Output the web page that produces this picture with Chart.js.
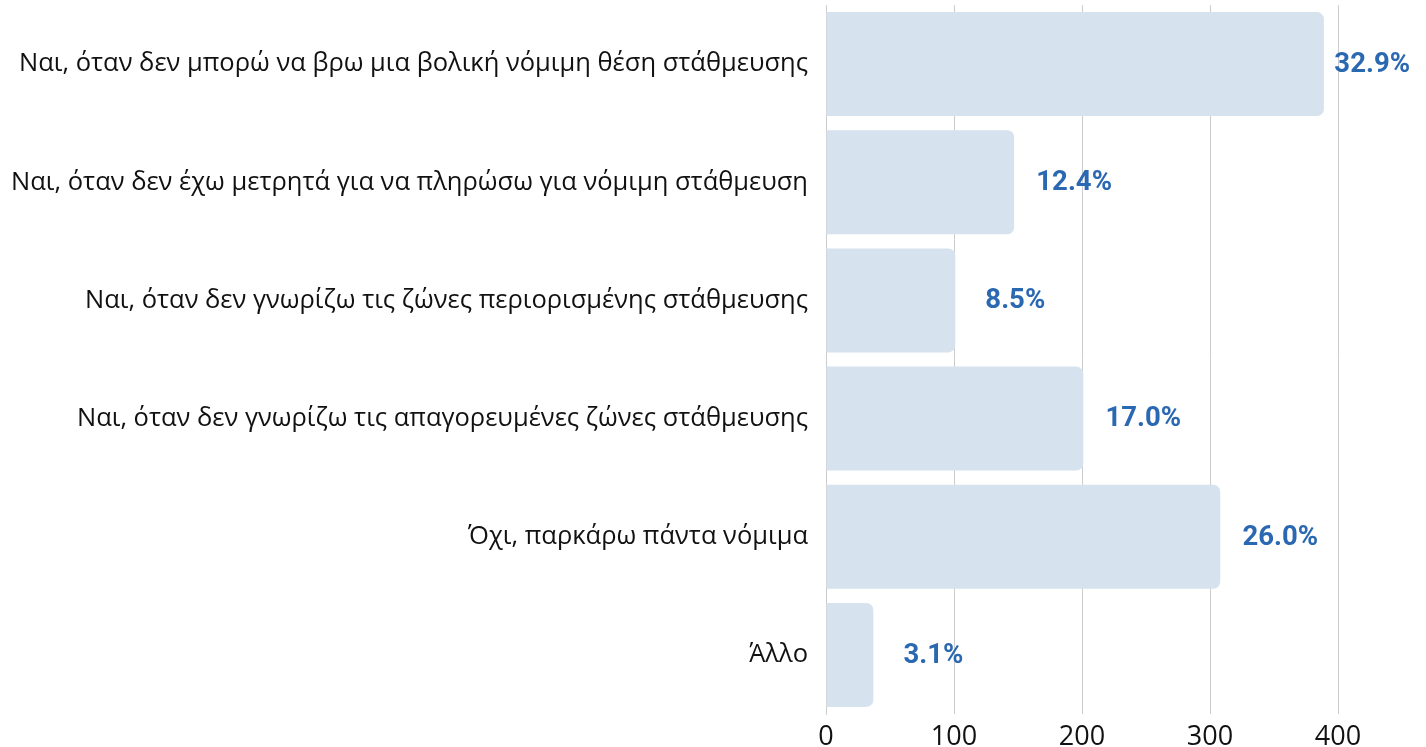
<!DOCTYPE html>
<html>
<head>
<meta charset="utf-8">
<script src="https://cdn.jsdelivr.net/npm/chart.js@4.4.1/dist/chart.umd.min.js"></script>
<style>
  html, body { margin: 0; padding: 0; background: #fff; }
  #wrap { width: 1426px; height: 747px; position: relative; }
</style>
</head>
<body>
<div id="wrap"><canvas id="chart"></canvas></div>
<script>
// answers (categories)
const answers = [
    "Ναι, όταν δεν μπορώ να βρω μια βολική νόμιμη θέση στάθμευσης",
    "Ναι, όταν δεν έχω μετρητά για να πληρώσω για νόμιμη στάθμευση",
    "Ναι, όταν δεν γνωρίζω τις ζώνες περιορισμένης στάθμευσης",
    "Ναι, όταν δεν γνωρίζω τις απαγορευμένες ζώνες στάθμευσης",
    "Όχι, παρκάρω πάντα νόμιμα",
    "Άλλο"
];
// counts
const counts = [389, 147, 101, 201, 308, 37];
// percentage labels as printed next to each bar
const pctLabels = ["32.9%", "12.4%", "8.5%", "17.0%", "26.0%", "3.1%"];
const xTicks = [0, 100, 200, 300, 400];

const labelFont = "'Open Sans', 'Noto Sans', sans-serif";

// draws the blue % text to the right of each bar
const pctPlugin = {
    id: 'pctLabels',
    afterDatasetsDraw(chart) {
        const ctx = chart.ctx;
        const bars = chart.getDatasetMeta(0).data;
        ctx.save();
        ctx.font = "bold 27.5px Roboto, sans-serif";
        ctx.fillStyle = "#2b68b2";
        ctx.textAlign = "center";
        ctx.textBaseline = "middle";
        bars.forEach((bar, i) => {
            const txt = pctLabels[i];
            const w = ctx.measureText(txt).width;
            let x = bar.x + 60;
            if (x + w / 2 > chart.width - 16) x = chart.width - 16 - w / 2;
            ctx.fillText(txt, x, bar.y + 1);
        });
        ctx.restore();
    }
};

const ctx = document.getElementById('chart').getContext('2d');
new Chart(ctx, {
    type: 'bar',
    data: {
        labels: answers,
        datasets: [{
            data: counts,
            backgroundColor: '#d6e2ee',
            borderRadius: 7,
            borderSkipped: 'start',
            categoryPercentage: 1,
            barPercentage: 0.88
        }]
    },
    options: {
        indexAxis: 'y',
        responsive: true,
        maintainAspectRatio: false,
        animation: false,
        layout: { padding: { top: 5, right: 88, left: 0, bottom: 0 } },
        plugins: {
            legend: { display: false },
            tooltip: { enabled: false }
        },
        scales: {
            x: {
                min: 0,
                max: 400,
                afterBuildTicks(scale) {
                    scale.ticks = xTicks.map(v => ({ value: v }));
                },
                afterFit(scale) {
                    scale.height = 33;
                    scale.paddingLeft = 0;
                    scale.paddingRight = 0;
                },
                grid: { color: '#cccccc', lineWidth: 1, drawTicks: false },
                border: { display: false },
                ticks: {
                    color: '#111',
                    padding: 7,
                    font: { family: labelFont, size: 27 }
                }
            },
            y: {
                grid: { display: false, drawTicks: false },
                border: { display: true, color: '#cccccc' },
                afterFit(scale) {
                    scale.width = 826;
                    scale.paddingTop = 0;
                    scale.paddingBottom = 0;
                },
                ticks: {
                    color: '#111',
                    padding: 18,
                    font: { family: labelFont, size: 25.5 }
                }
            }
        }
    },
    plugins: [pctPlugin]
});
</script>
</body>
</html>
